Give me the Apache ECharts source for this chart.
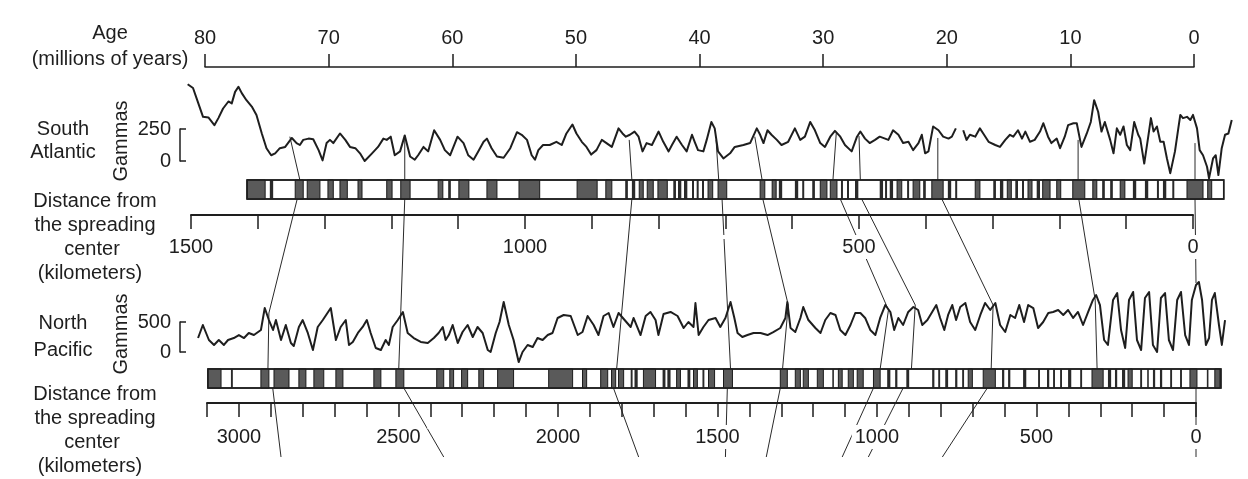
<!DOCTYPE html>
<html><head><meta charset="utf-8">
<script src="https://cdn.jsdelivr.net/npm/echarts@6/dist/echarts.min.js"></script>
<style>html,body{margin:0;padding:0;background:#fff}#c{width:1248px;height:479px}</style>
</head><body><div id="c"></div>
<script>
// ---------- DATA ----------
const ageRange = [0, 80];                 // millions of years
const saDistRange = [0, 1500];            // km (South Atlantic axis)
const npDistRange = [0, 3100];            // km (North Pacific axis)
const saProfRange = [-60, 1510];          // km span covered by the South Atlantic profile
const npProfRange = [-100, 3140];         // km span covered by the North Pacific profile
const saGammaScale = [0, 250];
const npGammaScale = [0, 500];

// South Atlantic anomaly profile [distance km, gammas]
const saProfile = [[1505,600],[1497,570],[1489,450],[1482,345],[1474,340],[1465,280],[1459,335],[1452,410],[1444,465],[1439,450],[1434,540],[1429,580],[1424,530],[1417,475],[1409,425],[1402,360],[1394,215],[1387,100],[1380,45],[1374,60],[1367,100],[1359,110],[1349,180],[1342,140],[1337,125],[1332,165],[1324,175],[1317,170],[1309,85],[1303,5],[1297,140],[1292,165],[1287,140],[1277,215],[1269,165],[1262,110],[1254,100],[1247,60],[1240,0],[1229,60],[1220,110],[1212,175],[1207,165],[1201,190],[1195,45],[1187,75],[1180,200],[1172,35],[1165,10],[1160,45],[1152,110],[1145,75],[1136,240],[1127,165],[1120,85],[1112,45],[1101,190],[1092,140],[1085,45],[1077,10],[1070,75],[1062,150],[1057,175],[1050,100],[1042,35],[1032,25],[1022,100],[1012,225],[1005,205],[997,165],[990,45],[985,10],[980,85],[973,125],[963,125],[953,150],[945,125],[938,215],[929,285],[923,215],[915,150],[908,110],[901,50],[893,85],[885,165],[878,140],[870,110],[860,255],[854,215],[849,190],[843,205],[836,230],[830,190],[824,75],[818,140],[810,125],[800,230],[793,150],[785,75],[780,125],[773,190],[765,125],[758,75],[750,205],[746,150],[741,85],[733,75],[728,165],[721,305],[716,255],[711,75],[703,20],[693,60],[686,110],[673,125],[663,140],[653,255],[648,205],[643,140],[637,240],[631,205],[623,165],[616,125],[606,150],[596,255],[588,165],[581,190],[573,305],[566,240],[558,140],[551,110],[543,190],[536,235],[528,190],[521,125],[511,75],[503,190],[498,230],[491,175],[484,140],[476,165],[469,190],[461,175],[456,165],[449,240],[441,205],[434,140],[426,150],[419,85],[411,140],[406,205],[401,60],[396,75],[389,270],[381,240],[374,190],[366,175],[361,190],[355,255],[350,'-'],[344,240],[339,165],[334,205],[326,190],[319,255],[314,215],[306,150],[296,125],[289,110],[281,165],[274,205],[269,190],[262,240],[256,175],[251,230],[244,150],[237,165],[229,230],[224,295],[217,190],[212,140],[204,175],[199,100],[192,190],[187,280],[179,295],[174,295],[167,110],[159,215],[153,305],[148,475],[142,385],[137,230],[132,305],[124,165],[119,60],[114,255],[109,205],[104,270],[99,125],[94,85],[88,305],[82,205],[79,175],[73,-20],[67,190],[63,335],[59,230],[54,270],[49,150],[44,150],[39,20],[34,-95],[27,75],[22,255],[19,360],[15,335],[9,345],[4,320],[0,360],[-6,255],[-10,85],[-15,45],[-21,-45],[-24,-135],[-30,20],[-34,45],[-38,-110],[-43,100],[-48,205],[-53,215],[-58,320]];

// North Pacific anomaly profile [distance km, gammas]
const npProfile = [[3128,233],[3113,450],[3094,200],[3078,117],[3063,200],[3047,117],[3034,200],[3016,233],[3000,283],[2984,233],[2969,317],[2953,283],[2931,367],[2919,733],[2906,533],[2893,367],[2884,533],[2868,200],[2853,450],[2837,150],[2828,100],[2812,417],[2800,533],[2784,317],[2768,33],[2753,417],[2737,533],[2712,733],[2696,200],[2681,417],[2665,533],[2655,117],[2643,167],[2627,317],[2612,417],[2599,533],[2587,317],[2571,67],[2555,33],[2540,200],[2530,117],[2518,417],[2502,533],[2486,667],[2471,317],[2452,233],[2430,167],[2408,150],[2389,233],[2374,317],[2361,417],[2352,200],[2342,283],[2330,450],[2314,150],[2299,333],[2283,450],[2267,250],[2252,417],[2236,317],[2220,33],[2211,0],[2195,317],[2183,500],[2170,833],[2154,450],[2139,200],[2123,-167],[2111,0],[2095,117],[2079,83],[2064,233],[2048,200],[2032,283],[2017,317],[2001,567],[1982,617],[1960,600],[1938,283],[1923,333],[1907,600],[1888,450],[1873,283],[1857,600],[1841,650],[1826,417],[1810,650],[1791,533],[1772,417],[1763,567],[1741,283],[1725,600],[1710,667],[1694,533],[1685,283],[1669,633],[1647,667],[1625,600],[1606,400],[1591,500],[1575,417],[1569,817],[1559,283],[1544,417],[1528,533],[1506,567],[1491,417],[1475,567],[1459,833],[1447,567],[1437,317],[1422,250],[1406,283],[1387,317],[1365,317],[1343,283],[1325,333],[1303,400],[1287,567],[1281,833],[1271,400],[1256,333],[1240,567],[1231,750],[1215,533],[1193,400],[1177,317],[1162,533],[1146,650],[1130,617],[1115,367],[1099,283],[1083,450],[1068,650],[1052,650],[1037,567],[1021,367],[1005,283],[990,567],[974,783],[958,667],[946,367],[933,567],[918,450],[902,667],[886,750],[871,700],[858,450],[842,533],[827,667],[814,783],[802,567],[789,367],[777,617],[764,783],[752,533],[739,750],[723,817],[708,500],[692,367],[676,617],[661,817],[645,700],[629,817],[614,450],[598,333],[582,617],[567,567],[554,783],[539,500],[526,783],[510,733],[495,400],[479,500],[463,650],[448,667],[432,700],[416,617],[401,700],[385,567],[370,667],[354,450],[338,667],[323,867],[313,950],[301,783],[288,200],[276,117],[260,867],[247,983],[235,367],[222,67],[210,867],[197,1000],[185,200],[172,33],[160,900],[147,1000],[135,117],[122,0],[110,900],[97,983],[85,200],[72,33],[59,867],[47,1000],[34,283],[22,117],[13,867],[0,1117],[-9,1167],[-19,867],[-31,117],[-41,233],[-50,867],[-59,983],[-72,450],[-81,117],[-91,533]];

// magnetic stripe bars: extent and normal-polarity blocks [from km, to km]
const saBarRange = [-46, 1416];
const saStripes = [[1389,1416],[1377,1382],[1332,1344],[1307,1326],[1287,1295],[1266,1277],[1244,1250],[1199,1207],[1172,1186],[1123,1130],[1111,1115],[1084,1099],[1042,1057],[978,1009],[892,922],[870,879],[846,850],[835,840],[823,829],[808,817],[787,801],[774,778],[766,771],[757,762],[747,750],[740,743],[732,735],[719,726],[698,711],[641,648],[624,630],[615,620],[591,596],[582,585],[566,570],[548,558],[533,543],[524,527],[515,518],[501,506],[464,469],[458,461],[449,454],[436,443],[425,428],[409,419],[400,404],[374,391],[362,367],[353,356],[319,326],[295,299],[284,289],[272,278],[262,266],[253,256],[241,247],[229,234],[214,225],[198,204],[162,180],[144,150],[132,136],[120,124],[102,109],[85,90],[67,72],[51,54],[40,45],[28,31],[-15,9],[-28,-22]];
const npBarRange = [-78, 3097];
const npStripes = [[3056,3097],[3019,3025],[2906,2931],[2843,2890],[2790,2812],[2734,2765],[2674,2696],[2555,2577],[2483,2508],[2358,2380],[2327,2339],[2283,2302],[2233,2248],[2139,2189],[1954,2029],[1910,1923],[1844,1866],[1819,1832],[1794,1810],[1766,1772],[1750,1760],[1694,1732],[1663,1672],[1647,1657],[1616,1628],[1585,1594],[1563,1575],[1541,1547],[1509,1528],[1453,1481],[1281,1303],[1240,1256],[1215,1231],[1168,1187],[1137,1140],[1109,1121],[1074,1090],[1043,1062],[990,1011],[958,968],[936,943],[899,908],[820,827],[802,808],[777,786],[748,755],[727,733],[701,714],[629,667],[601,608],[582,589],[532,542],[489,495],[460,467],[442,448],[420,426],[391,401],[357,363],[291,326],[266,276],[247,254],[222,232],[200,213],[169,175],[150,153],[128,135],[106,113],[75,81],[44,50],[-3,19],[-38,-34],[-75,-59]];

// correlation lines: polylines of [scale, km, level, level value]
const connectors = [
  [['sa',1352,'saProf',190],['sa',1337,'saBar',1],['sa',1341,'saBar',0],['np',2906,'npProf',650],['np',2909,'npBar',1],['np',2894,'npBar',0],['np',2868,'npAx',0]],
  [['sa',1180,'saProf',200],['sa',1180,'saBar',1],['sa',1180,'saBar',0],['np',2499,'npBar',1],['np',2483,'npBar',0],['np',2358,'npAx',0]],
  [['sa',844,'saProf',165],['sa',840,'saBar',1],['sa',840,'saBar',0],['np',1816,'npBar',1],['np',1826,'npBar',0],['np',1747,'npAx',0]],
  [['sa',714,'saProf',165],['sa',710,'saBar',1],['sa',705,'saBar',0],['np',1459,'npBar',1],['np',1469,'npBar',0],['np',1475,'npAx',0]],
  [['sa',656,'saProf',190],['sa',645,'saBar',1],['sa',644,'saBar',0],['np',1278,'npProf',783],['np',1296,'npBar',1],['np',1303,'npBar',0],['np',1347,'npAx',0]],
  [['sa',534,'saProf',220],['sa',539,'saBar',1],['sa',528,'saBar',0],['np',964,'npProf',700],['np',990,'npBar',1],['np',1011,'npBar',0],['np',1109,'npAx',0]],
  [['sa',500,'saProf',195],['sa',498,'saBar',1],['sa',496,'saBar',0],['np',880,'npProf',783],['np',892,'npBar',1],['np',918,'npBar',0],['np',1027,'npAx',0]],
  [['sa',382,'saProf',180],['sa',382,'saBar',1],['sa',376,'saBar',0],['np',636,'npProf',783],['np',642,'npBar',1],['np',654,'npBar',0],['np',795,'npAx',0]],
  [['sa',172,'saProf',165],['sa',172,'saBar',1],['sa',171,'saBar',0],['np',316,'npProf',867],['np',310,'npBar',1]],
  [['sa',-3,'saProf',140],['sa',-3,'saBar',1],['sa',-3,'saBar',0],['np',0,'npProf',1150]],
  [['np',0,'npBar',0],['np',0,'npAx',0]]
];

// ---------- LAYOUT ----------
const W = 1248;
const SA = {zero:1193, far:191};   // pixel x of 0 km and 1500 km on the South Atlantic axis
const NP = {zero:1196, far:207};   // pixel x of 0 km and 3100 km on the North Pacific axis
function spanGrid(sc, axisMax, range, top, height){
  const k = (sc.zero - sc.far) / axisMax;
  const left = sc.zero - range[1] * k, rightPx = sc.zero - range[0] * k;
  return {left, right: W - rightPx, top, height};
}
const saProfGrid = spanGrid(SA, saDistRange[1], saProfRange, 129, 32);
const npProfGrid = spanGrid(NP, npDistRange[1], npProfRange, 322, 30);
const BRACKET_X = 180;

// ---------- CHART ----------
const FONT = "'Liberation Sans', Arial, Helvetica, sans-serif";
const INK = '#1e1e1e';
const chart = echarts.init(document.getElementById('c'), null, {renderer:'canvas'});

const hidden = (g, range) => ({gridIndex:g, type:'value', min:range[0], max:range[1], show:false});
const hiddenX = (g, range) => Object.assign(hidden(g, range), {inverse:true});
const lbl = {fontSize:20, color:INK, fontFamily:FONT};
const lineSt = {color:INK, width:1.5};

function rectOf(api){
  const a = api.coord([api.value(1), 1]), b = api.coord([api.value(0), 0]);
  return {x:Math.min(a[0],b[0]), y:a[1], width:Math.abs(b[0]-a[0]), height:b[1]-a[1]};
}
function barBg(params, api){
  return {type:'rect', shape:rectOf(api), style:{fill:'#fff', stroke:INK, lineWidth:1.5}};
}
function barBorder(params, api){
  return {type:'rect', shape:rectOf(api), style:{fill:null, stroke:INK, lineWidth:1.5}};
}
function stripe(params, api){
  const r = rectOf(api);
  const thin = r.width < 3.5;
  r.width = Math.max(r.width, 1.6);
  return {type:'rect', shape:r,
    style: thin ? {fill:'#2a2a2a'} : {fill:'#5a5a5a', stroke:'#1a1a1a', lineWidth:1}};
}
const custom = (xi, data, fn, z) => ({type:'custom', xAxisIndex:xi, yAxisIndex:xi, data, renderItem:fn,
  encode:{x:[0,1]}, clip:false, silent:true, z});
const bracketAxis = (g, scale, offset) => ({gridIndex:g, type:'value', min:scale[0], max:scale[1], interval:scale[1],
  position:'left', offset,
  axisLine:{show:true, onZero:false, lineStyle:lineSt}, axisTick:{show:true, inside:true, length:6, lineStyle:lineSt},
  axisLabel:Object.assign({margin:9}, lbl), splitLine:{show:false}});
const kmFmt = v => v % 500 === 0 ? String(v) : '';

const option = {
  animation:false,
  backgroundColor:'#fff',
  grid:[
    {left:205, right:54, top:67, height:10},
    saProfGrid,
    {left:SA.far, right:W-SA.zero, top:180, height:19},
    {left:SA.far, right:W-SA.zero, top:205, height:10},
    npProfGrid,
    {left:NP.far, right:W-NP.zero, top:369, height:19},
    {left:NP.far, right:W-NP.zero, top:403, height:54}
  ],
  xAxis:[
    {gridIndex:0, type:'value', min:ageRange[0], max:ageRange[1], interval:10, inverse:true, position:'top',
      axisLine:{onZero:false, lineStyle:lineSt}, axisTick:{length:13, lineStyle:lineSt},
      axisLabel:Object.assign({margin:19}, lbl), splitLine:{show:false}},
    hiddenX(1, saProfRange), hiddenX(2, saDistRange),
    {gridIndex:3, type:'value', min:saDistRange[0], max:saDistRange[1], interval:100, inverse:true, position:'bottom', z:5,
      axisLine:{onZero:false, lineStyle:{color:INK, width:2}}, axisTick:{length:14, lineStyle:lineSt},
      axisLabel:Object.assign({margin:20, backgroundColor:'#fff', padding:[2,3], formatter:kmFmt}, lbl),
      splitLine:{show:false}},
    hiddenX(4, npProfRange), hiddenX(5, npDistRange),
    {gridIndex:6, type:'value', min:npDistRange[0], max:npDistRange[1], interval:100, inverse:true, position:'top', z:5,
      axisLine:{onZero:false, lineStyle:{color:INK, width:2}}, axisTick:{inside:true, length:14, lineStyle:lineSt},
      axisLabel:Object.assign({inside:true, margin:22, backgroundColor:'#fff', padding:[2,3], formatter:kmFmt}, lbl),
      splitLine:{show:false}}
  ],
  yAxis:[
    hidden(0,[0,1]),
    bracketAxis(1, saGammaScale, saProfGrid.left - BRACKET_X),
    hidden(2,[0,1]), hidden(3,[0,1]),
    bracketAxis(4, npGammaScale, npProfGrid.left - BRACKET_X),
    hidden(5,[0,1]), hidden(6,[0,1])
  ],
  series:[
    {type:'line', xAxisIndex:1, yAxisIndex:1, data:saProfile, showSymbol:false, symbol:'none', clip:false, silent:true, z:6,
      lineStyle:{color:INK, width:2, join:'round'}},
    {type:'line', xAxisIndex:4, yAxisIndex:4, data:npProfile, showSymbol:false, symbol:'none', clip:false, silent:true, z:6,
      lineStyle:{color:INK, width:2, join:'round'}},
    custom(2, [saBarRange], barBg, 3),
    custom(2, saStripes, stripe, 4),
    custom(2, [saBarRange], barBorder, 5),
    custom(5, [npBarRange], barBg, 3),
    custom(5, npStripes, stripe, 4),
    custom(5, [npBarRange], barBorder, 5)
  ]
};
chart.setOption(option);

// ---------- TEXT + CONNECTORS ----------
const xIdx = {sa:2, np:5};
const yIdx = {saProf:1, saBar:2, npProf:4, npBar:5, npAx:6};
function toPx(p){
  return [chart.convertToPixel({xAxisIndex:xIdx[p[0]]}, p[1]), chart.convertToPixel({yAxisIndex:yIdx[p[2]]}, p[3])];
}
const txt = (s, x, y, extra) => Object.assign({type:'text', x, y, silent:true, z:10,
  style:{text:s, font:'20px ' + FONT, fill:INK, align:'center', verticalAlign:'middle', textAlign:'center', textVerticalAlign:'middle'}}, extra || {});
const texts = [
  txt('Age', 110, 33), txt('(millions of years)', 110, 59),
  txt('South', 63, 129), txt('Atlantic', 63, 152),
  txt('Gammas', 121, 141, {rotation:Math.PI/2}),
  txt('Distance from', 95, 201), txt('the spreading', 95, 225), txt('center', 92, 249), txt('(kilometers)', 90, 273),
  txt('North', 63, 323), txt('Pacific', 63, 350),
  txt('Gammas', 121, 334, {rotation:Math.PI/2}),
  txt('Distance from', 95, 394), txt('the spreading', 95, 418), txt('center', 92, 442), txt('(kilometers)', 90, 466)
];
const links = connectors.map(c => ({type:'polyline', silent:true, z:1,
  shape:{points:c.map(toPx)}, style:{stroke:'#2a2a2a', lineWidth:1, fill:null}}));
chart.setOption({graphic:texts.concat(links)});
</script>
</body></html>
